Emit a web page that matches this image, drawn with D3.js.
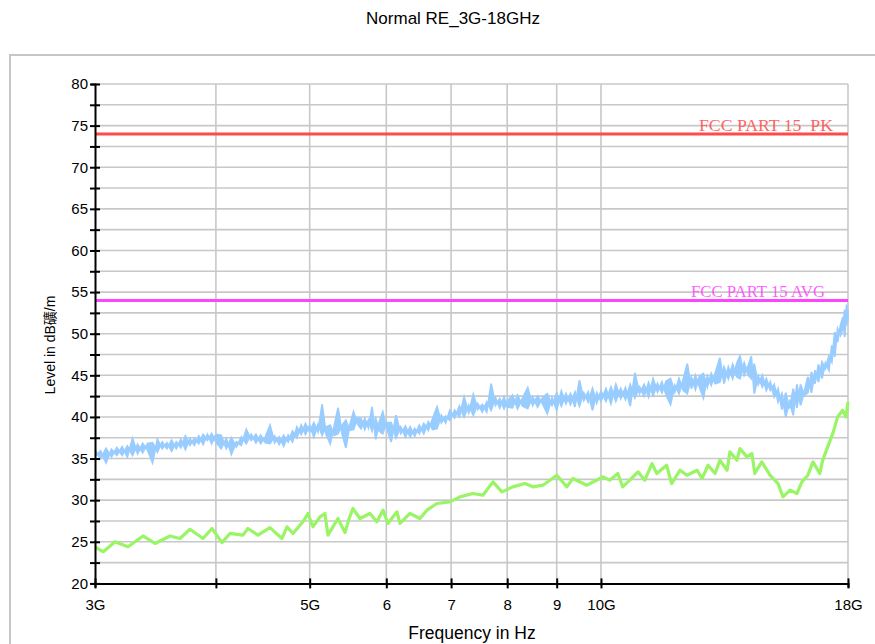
<!DOCTYPE html>
<html><head><meta charset="utf-8">
<script src="https://cdn.jsdelivr.net/npm/d3@7"></script>
<style>
body{margin:0;background:#fff;}
svg{display:block;font-family:"Liberation Sans",Arial,sans-serif;}
</style></head>
<body>
<svg id="c" width="875" height="644"></svg>
<script>
const title = "Normal RE_3G-18GHz";
const xTitle = "Frequency in Hz";
const yTitle = "Level in dB礦/m";
const xTickValues = [3, 4, 5, 6, 7, 8, 9, 10, 18];
const xTickLabels = ["3G", "", "5G", "6", "7", "8", "9", "10G", "18G"];
const yTickValues = [20, 22.5, 25, 27.5, 30, 32.5, 35, 37.5, 40, 42.5, 45, 47.5, 50, 52.5, 55, 57.5, 60, 62.5, 65, 67.5, 70, 72.5, 75, 77.5, 80];
const limitNames = ["FCC PART 15  PK", "FCC PART 15 AVG"];
const limitLevels = [74, 54];

const peakFreq = [3.00,3.04,3.08,3.12,3.16,3.20,3.24,3.28,3.32,3.36,3.40,3.44,3.48,3.52,3.56,3.60,3.64,3.68,3.72,3.76,3.80,3.84,3.88,3.92,3.96,4.00,
4.05,4.10,4.15,4.20,4.25,4.30,4.35,4.40,4.45,4.50,4.55,4.60,4.65,4.70,4.75,4.80,4.85,4.90,4.95,5.00,
5.05,5.10,5.15,5.20,5.25,5.30,5.35,5.40,5.45,5.50,5.55,5.60,5.65,5.70,5.75,5.80,5.85,5.90,5.95,6.00,
6.07,6.14,6.21,6.28,6.35,6.42,6.49,6.56,6.63,6.70,6.77,6.84,6.91,6.98,
7.06,7.14,7.22,7.30,7.38,7.46,7.54,7.62,7.70,7.78,7.86,7.94,8.00,
8.10,8.20,8.30,8.40,8.50,8.60,8.70,8.80,8.90,9.00,9.10,9.20,9.30,9.40,9.50,9.60,9.70,9.80,9.90,10.0,
10.12,10.24,10.36,10.48,10.60,10.72,10.84,10.96,11.08,11.20,11.32,11.44,11.56,11.68,11.80,11.92,12.04,12.16,12.28,12.40,12.52,12.64,12.76,12.88,13.00,
13.12,13.27,13.40,13.54,13.68,13.82,13.92,14.06,14.20,14.30,14.40,14.54,14.68,14.82,14.96,15.10,15.24,15.38,15.52,15.66,15.80,15.94,16.08,16.22,16.36,16.50,16.64,16.78,16.92,17.06,17.20,17.32,17.44,17.56,17.68,17.78,17.86,17.94,18.00];
// upper/lower sides of the noisy peak trace at each frequency
const peakLevel = [35.3,35.9,34.5,36.1,35.4,36.4,35.2,37.4,35.6,36.8,36.0,34.5,37.3,36.2,36.9,35.9,37.0,36.3,37.7,36.6,37.4,36.8,37.9,37.2,38.0,37.0,
36.2,37.4,35.5,37.0,36.6,38.5,37.2,37.9,36.8,37.6,39.0,36.9,37.6,36.5,37.8,37.0,38.8,37.9,39.2,38.2,
39.3,38.2,41.5,37.9,36.8,38.9,41.1,38.0,36.3,39.0,40.6,39.2,38.6,39.8,38.7,41.2,37.3,39.4,40.6,38.8,
37.0,40.2,38.0,38.9,37.6,38.6,38.0,39.2,38.4,39.8,41.2,39.3,40.1,39.6,
40.8,40.0,42.4,40.5,42.7,40.9,41.5,40.6,44.0,41.4,42.2,41.0,41.9,
42.6,41.0,42.3,43.5,41.4,42.5,41.6,40.4,42.3,40.8,43.1,41.6,42.8,41.2,44.4,42.0,43.0,40.8,42.9,41.9,
43.4,41.6,43.9,42.2,43.5,41.3,45.3,42.8,43.9,42.4,44.6,43.0,44.2,42.6,41.5,43.8,42.8,44.5,46.4,43.4,45.0,43.6,42.3,44.9,43.8,
45.2,47.1,44.0,46.0,44.6,46.5,47.3,45.0,46.2,47.3,42.8,44.9,43.6,44.6,43.2,43.9,41.8,42.8,40.0,41.8,40.2,43.9,41.4,43.0,44.8,42.9,45.6,44.2,46.6,45.8,47.3,46.6,50.2,49.0,51.0,52.0,49.6,53.5,51.5];
const peakLevelB = [36.0,35.0,36.2,35.2,36.3,35.4,36.5,35.4,36.7,35.7,36.8,36.9,35.8,37.0,36.2,37.2,36.2,37.3,36.1,37.4,36.6,37.7,36.7,37.9,36.8,37.9,
37.8,36.2,37.5,36.4,37.6,36.8,37.9,36.9,37.8,36.9,36.8,37.7,36.7,37.8,37.0,38.3,37.5,39.0,37.9,39.0,
37.6,39.1,37.8,38.8,39.0,37.8,38.0,39.0,39.6,38.4,38.5,39.9,39.8,38.5,39.6,38.3,39.8,38.3,38.0,39.3,
39.3,37.5,38.8,37.6,38.8,37.7,39.0,38.0,39.4,38.5,38.6,40.2,39.3,40.8,
39.9,41.3,40.0,41.4,40.2,41.6,40.6,41.8,40.8,42.3,41.1,42.4,41.2,
41.1,42.6,41.3,41.0,42.4,41.2,42.3,42.8,41.4,42.9,41.3,42.8,41.5,43.0,41.3,42.9,41.8,43.4,41.7,43.1,
41.9,43.6,41.9,43.4,42.1,43.9,42.3,43.6,42.5,44.1,42.6,44.0,42.9,44.3,44.6,43.0,44.6,43.2,42.8,44.8,43.3,44.9,45.2,43.6,45.2,
44.0,44.2,46.0,44.6,46.3,44.8,44.6,46.5,45.0,44.6,46.4,43.9,45.0,43.2,44.2,42.4,43.4,40.9,42.9,41.0,43.4,41.1,43.9,42.6,42.9,45.4,44.0,46.3,44.6,46.5,45.6,48.6,47.2,50.6,49.8,50.6,52.9,51.0,52.9];

const avgFreq = [3.00,3.06,3.146,3.245,3.363,3.46,3.586,3.672,3.761,3.879,3.963,4.058,4.136,4.266,4.317,4.421,4.549,4.681,4.737,4.805,4.92,4.979,5.039,5.124,5.185,5.222,5.348,5.438,5.50,5.542,5.636,5.771,5.868,5.952,6.024,6.154,6.198,6.347,6.50,6.609,6.768,6.98,7.149,7.373,7.551,7.733,7.90,8.109,8.344,8.505,8.71,9.004,9.22,9.352,9.67,9.974,10.05,10.21,10.41,10.53,10.71,10.92,11.10,11.29,11.42,11.69,11.83,12.07,12.27,12.57,12.72,12.90,13.12,13.27,13.50,13.59,13.82,13.92,14.15,14.32,14.42,14.66,14.95,15.24,15.42,15.68,15.94,16.13,16.36,16.56,16.83,16.95,17.15,17.36,17.56,17.77,17.92,18.00];
const avgLevel = [24.4,23.8,25.0,24.4,25.7,24.8,25.7,25.4,26.5,25.4,26.6,24.9,26.0,25.8,26.6,25.8,26.7,25.4,26.8,26.0,27.4,28.4,26.8,28.0,28.4,25.8,27.8,26.1,28.0,29.0,27.8,28.4,27.4,28.8,27.2,28.6,27.2,28.4,27.8,28.8,29.6,29.8,30.4,30.8,30.6,32.2,31.0,31.6,32.0,31.6,31.8,33.0,31.6,32.6,31.8,32.6,32.8,32.4,33.2,31.6,32.4,33.4,32.4,34.4,33.2,34.2,32.0,33.6,33.0,33.6,32.6,34.2,33.2,34.8,33.6,35.8,34.8,36.2,35.2,35.6,33.2,34.6,33.0,32.0,30.4,31.2,30.8,32.2,33.0,34.6,33.2,34.8,36.4,38.0,40.0,40.8,40.0,41.8];

const svg = d3.select("#c");
const L = 95, R = 848, T = 84, B = 583.4;
const x = d3.scaleLog().domain([3, 18]).range([L, R]);
const y = d3.scaleLinear().domain([20, 80]).range([B, T]);

// outer frame
svg.append("rect").attr("x", 10).attr("y", 55).attr("width", 900).attr("height", 700)
  .attr("fill", "#fff").attr("stroke", "#c6c6c6").attr("stroke-width", 2);

// title
svg.append("text").attr("x", 453).attr("y", 24).attr("text-anchor", "middle")
  .attr("font-size", 17).attr("fill", "#000").text(title);

// grid
const grid = svg.append("g").attr("stroke", "#c8c8c8").attr("stroke-width", 1.6);
grid.selectAll("line.h").data(yTickValues.filter(v => v > 20)).enter().append("line")
  .attr("x1", L).attr("x2", R).attr("y1", d => y(d)).attr("y2", d => y(d));
grid.selectAll("line.v").data(xTickValues.filter(v => v > 3)).enter().append("line")
  .attr("y1", T).attr("y2", B).attr("x1", d => x(d)).attr("x2", d => x(d));

// limit lines
const limitColors = ["#ff4a4a", "#ff44ff"];
const limitLabelRight = [833, 825];
limitLevels.forEach((lv, i) => {
  svg.append("line").attr("x1", L).attr("x2", R).attr("y1", y(lv)).attr("y2", y(lv))
    .attr("stroke", limitColors[i]).attr("stroke-width", 3);
  svg.append("text").attr("x", limitLabelRight[i] - 134).attr("y", y(lv) - 3)
    .attr("font-family", "'Liberation Serif','DejaVu Serif',serif").attr("font-size", 17)
    .attr("textLength", 134).attr("lengthAdjust", "spacingAndGlyphs")
    .style("white-space", "pre")
    .attr("fill", limitColors[i]).attr("opacity", 0.85).text(limitNames[i]);
});

// traces
const peakColor = "#99ccff";
const line = d3.line().x(d => x(d[0])).y(d => y(d[1]));
const area = d3.area().x(d => x(d[0])).y0(d => y(d[1])).y1(d => y(d[2]));
const peakPairs = peakFreq.map((f, i) => [f, peakLevel[i], peakLevelB[i]]);
svg.append("path").datum(peakPairs).attr("d", area).attr("fill", peakColor).attr("stroke", "none");
svg.append("path").datum(peakFreq.map((f, i) => [f, peakLevel[i]]))
  .attr("d", line).attr("fill", "none").attr("stroke", peakColor).attr("stroke-width", 1.8)
  .attr("stroke-linejoin", "miter");
svg.append("path").datum(peakFreq.map((f, i) => [f, peakLevelB[i]]))
  .attr("d", line).attr("fill", "none").attr("stroke", peakColor).attr("stroke-width", 1.8)
  .attr("stroke-linejoin", "miter");
svg.append("path").datum(avgFreq.map((f, i) => [f, avgLevel[i]]))
  .attr("d", line).attr("fill", "none").attr("stroke", "#99f566").attr("stroke-width", 3.2)
  .attr("stroke-linejoin", "round");

// y axis
const yAxis = d3.axisLeft(y).tickValues(yTickValues).tickSize(4)
  .tickFormat(d => d % 5 === 0 ? d : "");
const gy = svg.append("g").attr("transform", `translate(${L},0)`).call(yAxis);
gy.select(".domain").attr("stroke", "#000").attr("stroke-width", 2);
gy.selectAll(".tick line").attr("x1", 5).attr("x2", -5).attr("stroke", "#000").attr("stroke-width", 2);
gy.selectAll(".tick text").attr("x", -7).attr("font-size", 15).attr("fill", "#000")
  .attr("font-family", "'Liberation Sans',Arial,sans-serif");

// x axis
const xAxis = d3.axisBottom(x).tickValues(xTickValues).tickSize(4)
  .tickFormat((d, i) => xTickLabels[i]);
const gx = svg.append("g").attr("transform", `translate(0,${B})`).call(xAxis);
gx.select(".domain").attr("stroke", "#000").attr("stroke-width", 2);
gx.selectAll(".tick line").attr("y1", -5).attr("y2", 5).attr("stroke", "#000").attr("stroke-width", 2);
gx.selectAll(".tick text").attr("y", 16).attr("font-size", 15).attr("fill", "#000")
  .attr("font-family", "'Liberation Sans',Arial,sans-serif");

// axis titles
svg.append("text").attr("x", 472).attr("y", 639).attr("text-anchor", "middle")
  .attr("font-size", 17.5).attr("fill", "#000").text(xTitle);
svg.append("text").attr("transform", "translate(55,345) rotate(-90)").attr("text-anchor", "middle")
  .attr("font-size", 14).attr("fill", "#000")
  .attr("font-family", "'Liberation Sans',Arial,'Noto Sans CJK SC',sans-serif").text(yTitle);
</script>
</body></html>
